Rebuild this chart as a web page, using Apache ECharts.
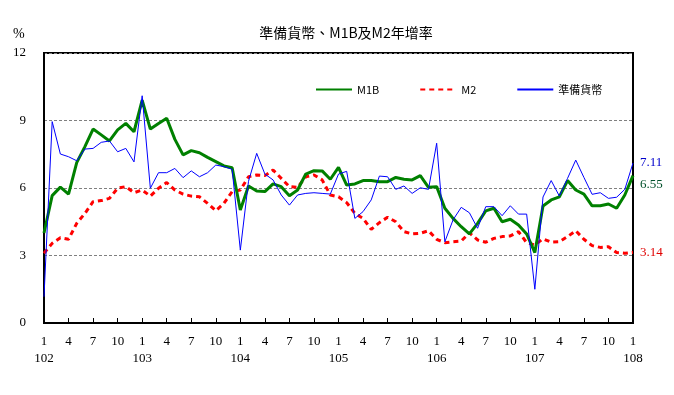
<!DOCTYPE html>
<html><head><meta charset="utf-8">
<script src="https://cdn.jsdelivr.net/npm/echarts@6/dist/echarts.min.js"></script>
<style>html,body{margin:0;padding:0;background:#fff}#c{width:674px;height:395px}</style>
</head><body><div id="c"></div>
<script>
const years = [102,103,104,105,106,107,108];
const categories = [];
years.forEach(y => { for (let m = 1; m <= 12; m++) { if (y === 108 && m > 1) break; categories.push(y + '/' + m); } });

const m1b = [4.0,5.66,6.04,5.73,7.13,7.84,8.62,8.36,8.09,8.58,8.87,8.5,
  9.9,8.62,8.87,9.1,8.16,7.47,7.66,7.57,7.36,7.17,6.98,6.9,
  5.02,6.09,5.87,5.84,6.18,6.06,5.66,5.91,6.62,6.77,6.76,6.39,
  6.92,6.13,6.18,6.33,6.33,6.28,6.28,6.47,6.39,6.36,6.55,6.03,
  6.06,5.1,4.65,4.28,3.96,4.43,4.98,5.1,4.5,4.61,4.36,3.96,
  3.13,5.2,5.47,5.61,6.33,5.91,5.73,5.21,5.21,5.29,5.1,5.69,
  6.55];
const m2 = [3.1,3.54,3.79,3.72,4.43,4.87,5.39,5.44,5.54,5.99,6.06,5.79,
  5.91,5.64,5.99,6.24,5.91,5.73,5.64,5.61,5.32,4.99,5.32,5.84,
  5.91,6.5,6.58,6.55,6.8,6.43,6.06,6.03,6.5,6.58,6.36,5.69,
  5.61,5.35,4.87,4.65,4.16,4.46,4.7,4.5,4.06,3.96,3.99,4.1,
  3.72,3.57,3.61,3.64,4.01,3.69,3.59,3.76,3.84,3.87,4.06,3.57,
  3.47,3.74,3.59,3.61,3.84,4.1,3.72,3.44,3.36,3.39,3.13,3.1,
  3.14];
const reserve = [1.17,8.95,7.51,7.39,7.21,7.73,7.76,8.03,8.09,7.61,7.76,7.16,
  10.1,5.99,6.68,6.68,6.87,6.46,6.76,6.5,6.68,7.02,6.95,6.83,
  3.24,6.3,7.54,6.62,6.36,5.69,5.24,5.69,5.76,5.79,5.76,5.73,
  6.62,6.74,4.65,4.95,5.47,6.53,6.5,5.94,6.09,5.76,6.01,5.94,
  7.99,3.61,4.58,5.14,4.9,4.21,5.17,5.17,4.77,5.21,4.84,4.84,
  1.5,5.6,6.33,5.64,6.43,7.24,6.47,5.72,5.79,5.54,5.59,5.94,
  7.11];
const yTicks = [0,3,6,9,12];

const serif = '"Liberation Serif","DejaVu Serif",serif';
const chart = echarts.init(document.getElementById('c'));
chart.setOption({
  animation: false,
  backgroundColor: '#fff',
  title: { text: '準備貨幣、M1B及M2年增率', left: 341, top: 21, textAlign: 'center',
    textStyle: { fontSize: 14, fontWeight: 'normal', color: '#000', fontFamily: '"Noto Sans CJK TC",sans-serif' } },
  graphic: [{ type: 'text', left: 13, top: 27, style: { text: '%', fontSize: 14, fontFamily: serif, fill: '#000' } }],
  legend: {
    top: 79, left: 310, itemGap: 40, itemWidth: 36, itemHeight: 12,
    itemStyle: { opacity: 0 },
    textStyle: { fontSize: 11, color: '#000', fontFamily: '"Noto Sans CJK TC",sans-serif' },
    data: [{ name: 'M1B' }, { name: 'M2' }, { name: '準備貨幣' }]
  },
  grid: { left: 44, right: 41, top: 53, bottom: 72, show: true, borderColor: '#000', borderWidth: 2, backgroundColor: 'transparent' },
  xAxis: {
    type: 'category', data: categories, boundaryGap: false,
    axisLine: { lineStyle: { color: '#000', width: 2 } },
    axisTick: { inside: true, length: 5, interval: 2, lineStyle: { color: '#000' } },
    axisLabel: { interval: 2, margin: 10, color: '#000', fontSize: 13, fontFamily: serif, lineHeight: 17,
      formatter: v => { const [y, m] = v.split('/'); return m === '1' ? m + '\n' + y : m; } },
    splitLine: { show: false }
  },
  yAxis: {
    type: 'value', min: yTicks[0], max: yTicks[yTicks.length - 1], interval: 3,
    axisLine: { show: true, lineStyle: { color: '#000', width: 2 } },
    axisTick: { show: false },
    axisLabel: { margin: 18, color: '#000', fontSize: 13, fontFamily: serif },
    splitLine: { show: true, lineStyle: { color: '#808080', type: [3, 2], width: 1 } }
  },
  series: [
    { name: 'M1B', type: 'line', data: m1b, symbol: 'none', z: 3,
      lineStyle: { color: '#008000', width: 3 }, itemStyle: { color: '#008000' },
      endLabel: { show: true, formatter: p => p.value.toFixed(2), color: '#00502a', fontSize: 13, fontFamily: serif, distance: 7, offset: [0, 9] } },
    { name: 'M2', type: 'line', data: m2, symbol: 'none', z: 2,
      lineStyle: { color: '#ff0000', width: 3, type: [5, 4] }, itemStyle: { color: '#ff0000' },
      endLabel: { show: true, formatter: p => p.value.toFixed(2), color: '#e00000', fontSize: 13, fontFamily: serif, distance: 7 } },
    { name: '準備貨幣', type: 'line', data: reserve, symbol: 'none', z: 4,
      lineStyle: { color: '#0000ff', width: 1 }, itemStyle: { color: '#0000ff' },
      endLabel: { show: true, formatter: p => p.value.toFixed(2), color: '#0000cc', fontSize: 13, fontFamily: serif, distance: 7 } }
  ]
});
</script></body></html>
